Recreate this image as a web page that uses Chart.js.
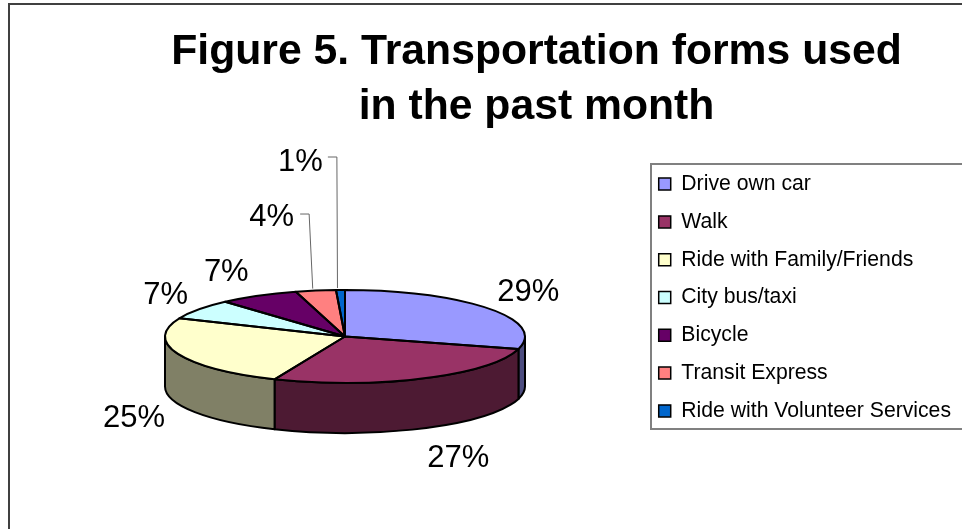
<!DOCTYPE html>
<html>
<head>
<meta charset="utf-8">
<title>Figure 5</title>
<script src="https://cdn.jsdelivr.net/npm/chart.js@4"></script>
<style>
html, body { margin: 0; padding: 0; background: #fff; overflow: hidden; }
canvas { display: block; }
</style>
</head>
<body>
<canvas id="chart" width="962" height="529"></canvas>
<script>
const titleLines = ['Figure 5. Transportation forms used', 'in the past month'];
const categories = ['Drive own car', 'Walk', 'Ride with Family/Friends', 'City bus/taxi', 'Bicycle', 'Transit Express', 'Ride with Volunteer Services'];
const shares = [29.3, 27.1, 25, 7, 7.2, 3.6, 0.8];
const topColors = ['#9999ff', '#993366', '#ffffcc', '#ccffff', '#660066', '#ff8080', '#0066cc'];
const sideColors = ['#4d4d80', '#4d1a33', '#808066', '#668080', '#330033', '#804040', '#003366'];

// where the flattened pie ends up on the page
const pieX = 345, pieY = 336.5, pieRadius = 180, tilt = 46.5 / 180, depth = 50;
const fontName = '"Liberation Sans", Arial, sans-serif';

// label centre relative to the rim point at the middle of each slice
const labelOffsets = [[40, -16], [35, 80], [-44, 65], [-33, -14], [-32, -23], [-44, -73], [-40, -128]];
// leader lines: slice index -> elbow relative to the rim point
const leaders = { 5: [-6.6, -76.6], 6: [-3.6, -133] };

const total = shares.reduce((sum, v) => sum + v, 0);

const fakePie = {
    id: 'fakePie',
    beforeDraw(chart) {
        const ctx = chart.ctx;
        ctx.save();
        // page frame, runs off the right and bottom of the picture
        ctx.fillStyle = '#404040';
        ctx.fillRect(8, 3, 954, 2);
        ctx.fillRect(8, 3, 2, 526);
        // legend box
        ctx.strokeStyle = '#808080';
        ctx.lineWidth = 2;
        ctx.strokeRect(651, 164, 320, 265);
        ctx.restore();
    },
    beforeDatasetsDraw(chart) {
        const ctx = chart.ctx;
        const arcs = chart.getDatasetMeta(0).data;
        const ry = pieRadius * tilt;

        // side wall, only the front half of the rim shows
        ctx.save();
        ctx.strokeStyle = '#000';
        ctx.lineWidth = 2;
        ctx.lineJoin = 'round';
        arcs.forEach((arc, i) => {
            const a = Math.max(arc.startAngle, 0);
            const b = Math.min(arc.endAngle, Math.PI);
            if (b <= a) return;
            ctx.beginPath();
            ctx.ellipse(pieX, pieY, pieRadius, ry, 0, a, b);
            ctx.ellipse(pieX, pieY + depth, pieRadius, ry, 0, b, a, true);
            ctx.closePath();
            ctx.fillStyle = sideColors[i];
            ctx.fill();
            ctx.stroke();
        });
        ctx.restore();

        // squash the library's round pie into the ellipse
        const cx = arcs[0].x, cy = arcs[0].y;
        ctx.save();
        ctx.translate(pieX, pieY);
        ctx.scale(1, tilt);
        ctx.translate(-cx, -cy);
    },
    afterDatasetsDraw(chart) {
        const ctx = chart.ctx;
        ctx.restore();

        const arcs = chart.getDatasetMeta(0).data;
        const ry = pieRadius * tilt;

        ctx.save();
        ctx.strokeStyle = '#000';
        ctx.lineWidth = 2;
        ctx.lineJoin = 'round';
        arcs.forEach((arc) => {
            ctx.beginPath();
            ctx.moveTo(pieX, pieY);
            ctx.ellipse(pieX, pieY, pieRadius, ry, 0, arc.startAngle, arc.endAngle);
            ctx.closePath();
            ctx.stroke();
        });

        ctx.fillStyle = '#000';
        ctx.font = '31px ' + fontName;
        ctx.textAlign = 'center';
        ctx.textBaseline = 'middle';
        arcs.forEach((arc, i) => {
            const mid = (arc.startAngle + arc.endAngle) / 2;
            const rimX = pieX + pieRadius * Math.cos(mid);
            const rimY = pieY + ry * Math.sin(mid);
            const off = labelOffsets[i];
            ctx.fillText(Math.round(shares[i] / total * 100) + '%', rimX + off[0], rimY + off[1]);

            const elbow = leaders[i];
            if (elbow) {
                ctx.beginPath();
                ctx.strokeStyle = '#666';
                ctx.lineWidth = 1;
                ctx.moveTo(rimX + elbow[0] - 9, rimY + elbow[1]);
                ctx.lineTo(rimX + elbow[0], rimY + elbow[1]);
                ctx.lineTo(rimX - 3, rimY - 2);
                ctx.stroke();
            }
        });
        ctx.restore();
    }
};

new Chart(document.getElementById('chart'), {
    type: 'pie',
    data: {
        labels: categories,
        datasets: [{
            data: shares,
            backgroundColor: topColors,
            borderWidth: 0,
            radius: pieRadius,
            clip: false
        }]
    },
    options: {
        responsive: false,
        animation: false,
        layout: { padding: { left: 112, right: 1, top: 0, bottom: 79 } },
        plugins: {
            title: {
                display: true,
                text: titleLines,
                color: '#000',
                font: { family: fontName, size: 42.7, weight: 'bold', lineHeight: 1.288 },
                padding: { top: 25, bottom: 10 }
            },
            legend: {
                position: 'right',
                fullSize: false,
                labels: {
                    color: '#000',
                    font: { family: fontName, size: 21.2 },
                    boxWidth: 12,
                    boxHeight: 12,
                    padding: 16.6,
                    generateLabels(chart) {
                        return categories.map((name, i) => ({
                            text: name,
                            fillStyle: topColors[i],
                            strokeStyle: '#000',
                            lineWidth: 1.5,
                            index: i
                        }));
                    }
                }
            },
            tooltip: { enabled: false }
        }
    },
    plugins: [fakePie]
});
</script>
</body>
</html>
